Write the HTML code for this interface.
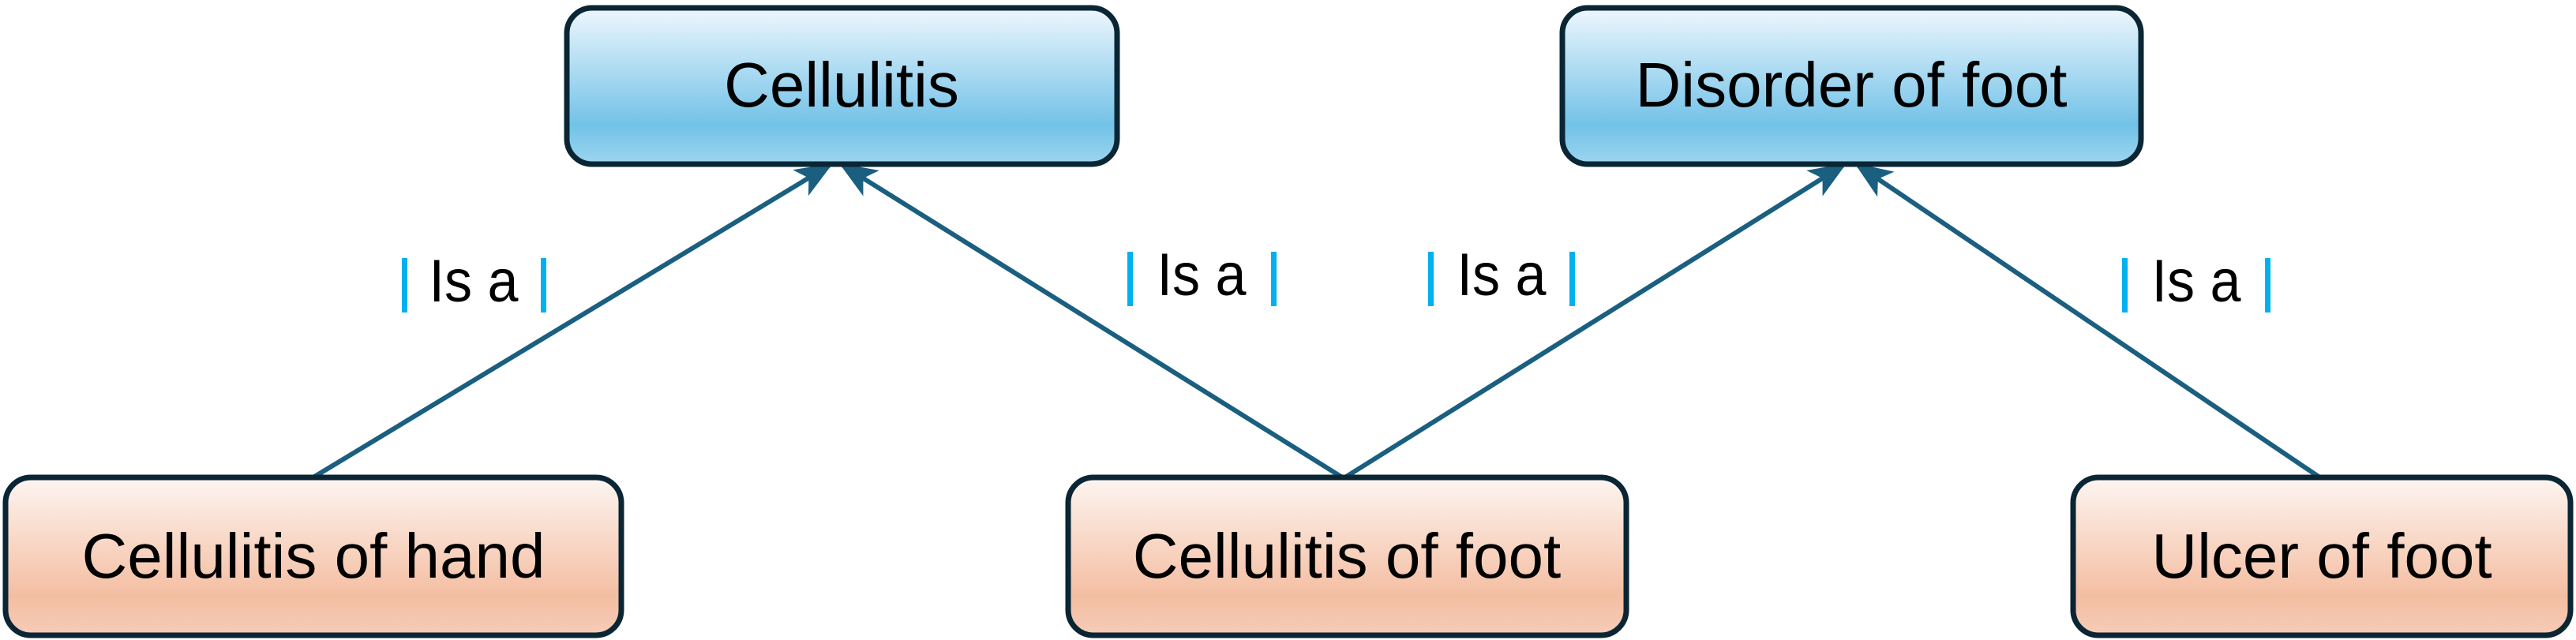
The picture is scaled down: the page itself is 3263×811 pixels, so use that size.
<!DOCTYPE html>
<html><head><meta charset="utf-8"><style>
html,body{margin:0;padding:0;background:#fff;width:3263px;height:811px;overflow:hidden}
svg{display:block}
text{font-family:"Liberation Sans",sans-serif;fill:#000}
</style></head><body>
<svg width="3263" height="811" viewBox="0 0 3263 811" xmlns="http://www.w3.org/2000/svg">
<defs>
<linearGradient id="b" x1="0" y1="0" x2="0" y2="1">
<stop offset="0" stop-color="#eef7fd"/><stop offset="0.75" stop-color="#72c2e8"/><stop offset="1" stop-color="#9dd5ef"/>
</linearGradient>
<linearGradient id="o" x1="0" y1="0" x2="0" y2="1">
<stop offset="0" stop-color="#fdf5f1"/><stop offset="0.75" stop-color="#f4bea2"/><stop offset="1" stop-color="#f6ccb8"/>
</linearGradient>
<marker id="ar" markerWidth="8" markerHeight="8" refX="7" refY="4" orient="auto" markerUnits="strokeWidth">
<path d="M0,0.8 L8,4 L0,7.2 L2,4 Z" fill="#1a5f80"/>
</marker>
</defs>
<g stroke="#1a5f80" stroke-width="6" fill="none" marker-end="url(#ar)">
<line x1="395" y1="606" x2="1050" y2="210"/>
<line x1="1702" y1="606" x2="1068" y2="210"/>
<line x1="1702" y1="606" x2="2334" y2="210"/>
<line x1="2940" y1="606" x2="2354" y2="210"/>
</g>
<g stroke="#0a2533" stroke-width="7">
<rect x="718" y="10" width="697" height="198" rx="32" fill="url(#b)"/>
<rect x="1979" y="10" width="733" height="198" rx="32" fill="url(#b)"/>
<rect x="7" y="605" width="780" height="200" rx="32" fill="url(#o)"/>
<rect x="1353" y="605" width="707" height="200" rx="32" fill="url(#o)"/>
<rect x="2626" y="605" width="630" height="200" rx="32" fill="url(#o)"/>
</g>
<g font-size="80" text-anchor="middle">
<text x="1066" y="135">Cellulitis</text>
<text x="2345" y="135">Disorder of foot</text>
<text x="397" y="732">Cellulitis of hand</text>
<text x="1706" y="732">Cellulitis of foot</text>
<text x="2941" y="732">Ulcer of foot</text>
</g>
<g fill="#00b0f0">
<rect x="509" y="327" width="7" height="69"/><rect x="685" y="327" width="7" height="69"/>
<rect x="1428" y="319" width="7" height="69"/><rect x="1610" y="319" width="7" height="69"/>
<rect x="1809" y="319" width="7" height="69"/><rect x="1988" y="319" width="7" height="69"/>
<rect x="2688" y="327" width="7" height="69"/><rect x="2869" y="327" width="7" height="69"/>
</g>
<g font-size="76" text-anchor="middle">
<text x="600" y="382" textLength="113" lengthAdjust="spacingAndGlyphs">Is a</text>
<text x="1522" y="374" textLength="113" lengthAdjust="spacingAndGlyphs">Is a</text>
<text x="1902" y="374" textLength="113" lengthAdjust="spacingAndGlyphs">Is a</text>
<text x="2782" y="382" textLength="113" lengthAdjust="spacingAndGlyphs">Is a</text>
</g>
</svg>
</body></html>
